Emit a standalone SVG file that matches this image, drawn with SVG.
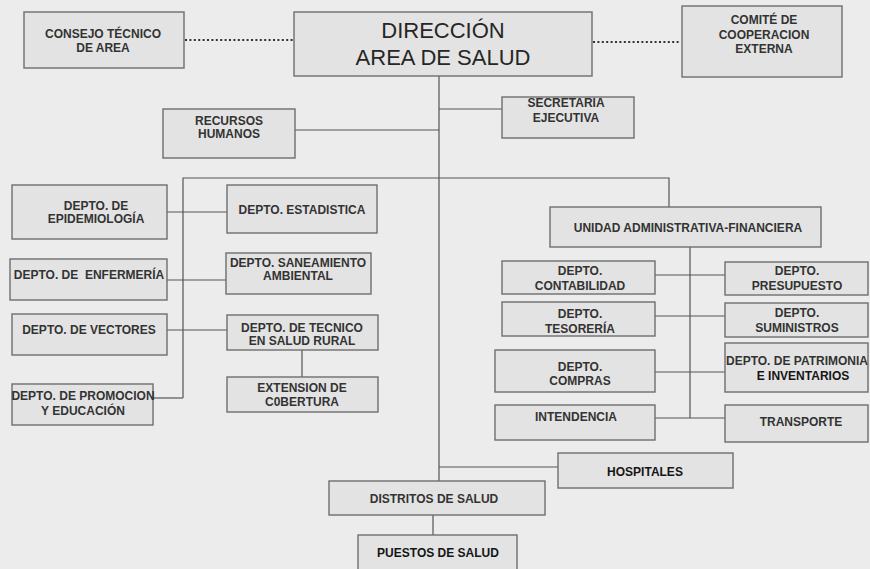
<svg xmlns="http://www.w3.org/2000/svg" width="870" height="569" viewBox="0 0 870 569">
<style>
.bg{fill:#ececec}
.box{fill:#e3e3e3;stroke:#6e6e6e;stroke-width:1.4}
.t{font-family:"Liberation Sans",Arial,sans-serif;font-size:12px;font-weight:bold;fill:#333;text-anchor:middle}
.dk{fill:#151515}
.big{font-family:"Liberation Sans",Arial,sans-serif;font-size:22px;fill:#262626;text-anchor:middle}
.ln{stroke:#555;stroke-width:1.2;fill:none}
.dot{stroke:#333;stroke-width:2.2;stroke-dasharray:2 2.4;fill:none}
</style>
<rect class="bg" x="0" y="0" width="870" height="569"/>
<g id="connectors">
<line class="dot" x1="185" y1="40" x2="293" y2="40"/>
<line class="dot" x1="593" y1="42" x2="681" y2="42"/>
<path class="ln" d="M439 76V481"/>
<path class="ln" d="M295 130H439"/>
<path class="ln" d="M439 109H502"/>
<path class="ln" d="M183 398V178H669V207"/>
<path class="ln" d="M167 212H227"/>
<path class="ln" d="M167 280H226"/>
<path class="ln" d="M167 330H227"/>
<path class="ln" d="M153 398H183"/>
<path class="ln" d="M302 350V377"/>
<path class="ln" d="M690 247V418"/>
<path class="ln" d="M655 275H725"/>
<path class="ln" d="M655 316H725"/>
<path class="ln" d="M655 372H725"/>
<path class="ln" d="M655 418H725"/>
<path class="ln" d="M439 467H558"/>
<path class="ln" d="M433 515V535"/>
</g>
<g id="consejo"><rect class="box" x="24" y="12" width="160" height="56"/><text class="t" x="103" y="38">CONSEJO TÉCNICO</text><text class="t" x="103" y="52">DE AREA</text></g>
<g id="direccion"><rect class="box" x="294" y="12" width="298" height="64"/><text class="big" x="443" y="38">DIRECCIÓN</text><text class="big" x="443" y="65">AREA DE SALUD</text></g>
<g id="comite"><rect class="box" x="682" y="6" width="160" height="71"/><text class="t" x="764" y="24">COMITÉ DE</text><text class="t" x="764" y="39">COOPERACION</text><text class="t" x="764" y="53">EXTERNA</text></g>
<g id="recursos"><rect class="box" x="163" y="109" width="132" height="49"/><text class="t" x="229" y="125">RECURSOS</text><text class="t" x="229" y="138">HUMANOS</text></g>
<g id="secretaria"><rect class="box" x="502" y="97" width="132" height="41"/><text class="t" x="566" y="107">SECRETARIA</text><text class="t" x="566" y="122">EJECUTIVA</text></g>
<g id="epidemiologia"><rect class="box" x="12" y="185" width="155" height="54"/><text class="t" x="96" y="210">DEPTO. DE</text><text class="t" x="96" y="223">EPIDEMIOLOGÍA</text></g>
<g id="estadistica"><rect class="box" x="227" y="185" width="150" height="48"/><text class="t" x="302" y="214">DEPTO. ESTADISTICA</text></g>
<g id="enfermeria"><rect class="box" x="10" y="259" width="157" height="41"/><text class="t" x="89" y="279" xml:space="preserve">DEPTO. DE  ENFERMERÍA</text></g>
<g id="saneamiento"><rect class="box" x="226" y="253" width="145" height="41"/><text class="t" x="298" y="267">DEPTO. SANEAMIENTO</text><text class="t" x="298" y="280">AMBIENTAL</text></g>
<g id="vectores"><rect class="box" x="12" y="314" width="155" height="41"/><text class="t" x="89" y="334">DEPTO. DE VECTORES</text></g>
<g id="tecnico"><rect class="box" x="227" y="315" width="151" height="35"/><text class="t" x="302" y="332">DEPTO. DE TECNICO</text><text class="t" x="302" y="345">EN SALUD RURAL</text></g>
<g id="extension"><rect class="box" x="227" y="377" width="151" height="35"/><text class="t" x="302" y="392">EXTENSION DE</text><text class="t" x="302" y="406">C0BERTURA</text></g>
<g id="promocion"><rect class="box" x="12" y="384" width="141" height="41"/><text class="t" x="83" y="400">DEPTO. DE PROMOCION</text><text class="t" x="83" y="415">Y EDUCACIÓN</text></g>
<g id="unidad"><rect class="box" x="550" y="207" width="271" height="40"/><text class="t" x="688" y="232">UNIDAD ADMINISTRATIVA-FINANCIERA</text></g>
<g id="contabilidad"><rect class="box" x="502" y="261" width="153" height="33"/><text class="t" x="580" y="275">DEPTO.</text><text class="t" x="580" y="290">CONTABILIDAD</text></g>
<g id="presupuesto"><rect class="box" x="725" y="262" width="143" height="33"/><text class="t" x="797" y="275">DEPTO.</text><text class="t" x="797" y="290">PRESUPUESTO</text></g>
<g id="tesoreria"><rect class="box" x="502" y="302" width="153" height="34"/><text class="t" x="580" y="318">DEPTO.</text><text class="t" x="580" y="333">TESORERÍA</text></g>
<g id="suministros"><rect class="box" x="725" y="303" width="143" height="34"/><text class="t" x="797" y="317">DEPTO.</text><text class="t" x="797" y="332">SUMINISTROS</text></g>
<g id="compras"><rect class="box" x="495" y="350" width="160" height="42"/><text class="t" x="580" y="371">DEPTO.</text><text class="t" x="580" y="385">COMPRAS</text></g>
<g id="patrimonia"><rect class="box" x="725" y="343" width="143" height="49"/><text class="t" x="797" y="365">DEPTO. DE PATRIMONIA</text><text class="t dk" x="803" y="380">E INVENTARIOS</text></g>
<g id="intendencia"><rect class="box" x="495" y="405" width="160" height="35"/><text class="t" x="576" y="421">INTENDENCIA</text></g>
<g id="transporte"><rect class="box" x="725" y="405" width="143" height="37"/><text class="t" x="801" y="426">TRANSPORTE</text></g>
<g id="hospitales"><rect class="box" x="558" y="453" width="175" height="35"/><text class="t dk" x="645" y="476">HOSPITALES</text></g>
<g id="distritos"><rect class="box" x="329" y="481" width="216" height="34"/><text class="t" x="434" y="503">DISTRITOS DE SALUD</text></g>
<g id="puestos"><rect class="box" x="358" y="535" width="159" height="40"/><text class="t dk" x="438" y="557">PUESTOS DE SALUD</text></g>
</svg>
